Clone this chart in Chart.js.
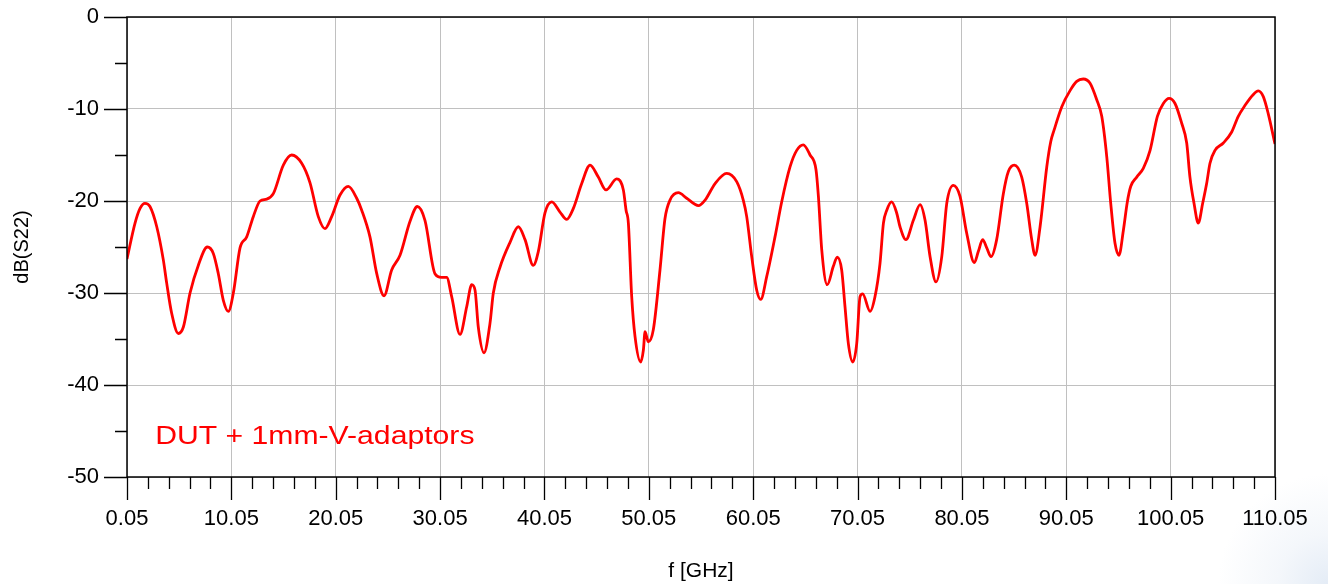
<!DOCTYPE html>
<html>
<head>
<meta charset="utf-8">
<script src="https://cdn.jsdelivr.net/npm/chart.js@4"></script>
<style>
  html, body { margin: 0; padding: 0; }
  body {
    width: 1328px; height: 584px; overflow: hidden;
    background: radial-gradient(circle at 100% 100%, #e4ecf6 0px, #f4f7fb 50px, #ffffff 110px);
  }
  #wrap { position: relative; width: 1328px; height: 584px; }
</style>
</head>
<body>
<div id="wrap"><canvas id="s22-chart"></canvas></div>
<script>
// frequency points (GHz)
const freqGHz = [
  0.05, 0.82, 1.3, 1.77, 2.25, 2.9, 3.53, 3.85, 4.33, 4.97, 5.45, 6.09, 6.88, 7.75, 8.32, 8.8, 9.28, 9.76,
  10.24, 10.88, 11.52, 12.15, 12.8, 13.44, 14.07, 15.03, 15.83, 16.79, 17.58, 18.38, 19.02, 19.66,
  20.46, 21.26, 22.06, 22.54, 23.33, 23.98, 24.68, 25.41, 26.21, 27.17, 27.87, 28.6, 29.56,
  30.2, 30.68, 31.16, 31.96, 32.6, 33.08, 33.4, 33.71, 34.26, 34.83, 35.15, 35.79, 36.75, 37.55, 38.19, 38.98, 39.46,
  40.1, 40.75, 41.54, 42.18, 42.82, 43.62, 44.42, 45.21, 45.95, 46.97, 47.61, 47.87, 48.09, 48.41, 48.73, 49.27, 49.53, 49.69,
  50.0, 50.48, 51.12, 51.6, 52.08, 52.88, 53.68, 54.8, 55.44, 56.4, 57.51, 58.47, 59.1, 59.43, 59.91,
  60.39, 60.77, 61.35, 62.14, 62.78, 63.58, 64.22, 64.85, 65.5, 66.07, 66.3, 66.62, 67.15, 67.73, 68.11, 68.53, 68.85, 69.17, 69.59, 69.97,
  70.29, 70.54, 71.25, 71.72, 72.2, 72.53, 72.85, 73.32, 73.8, 74.12, 74.69, 75.4, 76.04, 76.52, 77.0, 77.57, 78.12, 78.6, 79.23, 79.87,
  80.51, 81.24, 81.62, 82.04, 82.43, 82.84, 83.38, 84.02, 84.5, 85.07, 85.78, 86.26, 86.74, 87.06, 87.54, 88.18, 88.56, 88.88, 89.62,
  90.41, 91.05, 91.68, 92.33, 92.97, 93.45, 93.93, 94.31, 94.72, 95.1, 95.52, 95.9, 96.23, 96.8, 97.43, 98.08, 98.78, 99.35, 99.9,
  100.47, 101.11, 101.59, 101.9, 102.29, 102.7, 103.12, 103.5, 103.82, 104.3, 105.1, 105.9, 106.53, 107.18, 107.91, 108.45, 108.93, 109.4, 110.05
];

// dB(S22) at those frequencies
const s22dB = [
  -26.3, -22.4, -20.8, -20.25, -20.6, -22.8, -26.4, -28.9, -32.2, -34.4, -33.7, -30.0, -27.0, -25.0, -25.7, -27.9, -30.8, -32.0,
  -30.0, -25.1, -23.9, -21.7, -20.0, -19.8, -19.2, -16.1, -15.0, -15.9, -18.0, -21.7, -23.0, -21.7,
  -19.35, -18.4, -19.7, -21.0, -23.9, -27.9, -30.3, -27.5, -25.9, -22.2, -20.6, -22.1, -27.9,
  -28.3, -28.3, -30.4, -34.5, -31.5, -29.1, -29.7, -33.7, -36.5, -33.3, -30.0, -27.2, -24.5, -22.8, -24.2, -27.0, -25.5,
  -21.3, -20.1, -21.2, -22.0, -20.8, -18.1, -16.1, -17.4, -18.8, -17.6, -18.8, -21.0, -22.4, -30.4, -34.75, -37.5, -36.2, -34.2,
  -35.3, -34.0, -27.5, -21.9, -19.9, -19.1, -19.7, -20.5, -19.9, -18.1, -17.0, -17.9, -19.9, -21.7, -26.05,
  -29.7, -30.7, -28.2, -23.9, -20.1, -16.3, -14.5, -13.9, -15.0, -16.6, -19.5, -25.3, -29.1, -27.1, -26.1, -27.5, -31.5, -35.5, -37.5, -35.5,
  -30.4, -30.1, -32.0, -30.4, -26.8, -22.4, -21.0, -20.1, -21.3, -22.8, -24.2, -22.1, -20.4, -22.1, -26.05, -28.8, -26.05, -20.25, -18.3, -19.5,
  -23.5, -26.7, -25.5, -24.2, -25.1, -26.05, -24.2, -19.2, -16.8, -16.1, -17.4, -20.25, -24.2, -25.9, -22.8, -16.3, -13.55, -12.3, -9.75,
  -8.0, -7.0, -6.74, -7.2, -9.0, -10.8, -15.2, -20.25, -24.6, -25.9, -23.2, -20.1, -18.4, -17.4, -16.45, -14.5, -10.8, -9.4, -8.84,
  -9.4, -11.55, -13.7, -17.4, -20.25, -22.4, -20.25, -18.1, -15.9, -14.5, -13.7, -12.5, -10.8, -9.6, -8.5, -8.04, -8.66, -10.5, -13.8
];

const xTickValues = [0.05, 10.05, 20.05, 30.05, 40.05, 50.05, 60.05, 70.05, 80.05, 90.05, 100.05, 110.05];
const xTickLabels = ["0.05", "10.05", "20.05", "30.05", "40.05", "50.05", "60.05", "70.05", "80.05", "90.05", "100.05", "110.05"];
const yTickValues = [-50, -40, -30, -20, -10, 0];
const traceLabel = "DUT + 1mm-V-adaptors";

// minor ticks every 2 GHz and every 5 dB
const xMinor = [];
for (let f = 0.05; f < 110.05; f += 2) xMinor.push(f);
const yMinor = [-45, -35, -25, -15, -5];

const points = freqGHz.map((f, i) => ({ x: f, y: s22dB[i] }));

const FONT = "'Liberation Sans', Arial, sans-serif";

// tick marks, frame and trace label
const framePlugin = {
  id: "frame",
  afterDraw(chart) {
    const { ctx, chartArea: a, scales } = chart;
    const xs = scales.x, ys = scales.y;
    ctx.save();
    ctx.strokeStyle = "#000";
    ctx.lineWidth = 1.5;
    ctx.strokeRect(a.left, a.top, a.right - a.left, a.bottom - a.top);
    ctx.lineWidth = 1.3;
    ctx.beginPath();
    xMinor.forEach(v => {
      const px = Math.round(xs.getPixelForValue(v)) + 0.5;
      const major = xTickValues.some(t => Math.abs(t - v) < 1e-6);
      ctx.moveTo(px, a.bottom);
      ctx.lineTo(px, a.bottom + (major ? 23 : 12));
    });
    const lastX = Math.round(xs.getPixelForValue(110.05)) + 0.5;
    ctx.moveTo(lastX, a.bottom);
    ctx.lineTo(lastX, a.bottom + 23);
    yTickValues.forEach(v => {
      const py = Math.round(ys.getPixelForValue(v)) + 0.5;
      ctx.moveTo(a.left, py);
      ctx.lineTo(a.left - 23, py);
    });
    yMinor.forEach(v => {
      const py = Math.round(ys.getPixelForValue(v)) + 0.5;
      ctx.moveTo(a.left, py);
      ctx.lineTo(a.left - 12, py);
    });
    ctx.stroke();

    // label text is a bit wider than plain Arial in the original
    ctx.fillStyle = "#ff0000";
    ctx.font = "26px " + FONT;
    ctx.textBaseline = "middle";
    ctx.translate(xs.getPixelForValue(2.75), ys.getPixelForValue(-45.6));
    ctx.scale(1.16, 1);
    ctx.fillText(traceLabel, 0, 0);
    ctx.restore();
  }
};

Chart.register(framePlugin);

const ctx = document.getElementById("s22-chart").getContext("2d");
new Chart(ctx, {
  type: "line",
  data: {
    datasets: [{
      label: traceLabel,
      data: points,
      borderColor: "#ff0000",
      borderWidth: 2.8,
      pointRadius: 0,
      fill: false,
      cubicInterpolationMode: "monotone"
    }]
  },
  options: {
    responsive: true,
    maintainAspectRatio: false,
    animation: false,
    layout: { padding: { top: 17, right: 53, left: 0, bottom: 0 } },
    plugins: { legend: { display: false }, tooltip: { enabled: false } },
    scales: {
      x: {
        type: "linear",
        min: 0.05,
        max: 110.05,
        afterBuildTicks: s => { s.ticks = xTickValues.map(v => ({ value: v })); },
        afterFit: s => { s.height = 107; s.paddingLeft = 0; s.paddingRight = 0; },
        border: { display: false },
        grid: { color: "#c0c0c0", lineWidth: 1, drawTicks: false },
        ticks: {
          padding: 29,
          color: "#000",
          maxRotation: 0,
          autoSkip: false,
          font: { family: FONT, size: 22 },
          callback: (v, i) => xTickLabels[i]
        },
        title: {
          display: true,
          text: "f [GHz]",
          color: "#000",
          font: { family: FONT, size: 21 },
          padding: { top: 0, bottom: 0 }
        }
      },
      y: {
        min: -50,
        max: 0,
        afterBuildTicks: s => { s.ticks = yTickValues.map(v => ({ value: v })); },
        afterFit: s => { s.width = 127; s.paddingTop = 0; s.paddingBottom = 0; },
        border: { display: false },
        grid: { color: "#c0c0c0", lineWidth: 1, drawTicks: false },
        ticks: {
          padding: 28,
          color: "#000",
          font: { family: FONT, size: 22 }
        },
        title: {
          display: true,
          text: "dB(S22)",
          color: "#000",
          font: { family: FONT, size: 20 },
          padding: { top: 10, bottom: 0 }
        }
      }
    }
  }
});
</script>
</body>
</html>
